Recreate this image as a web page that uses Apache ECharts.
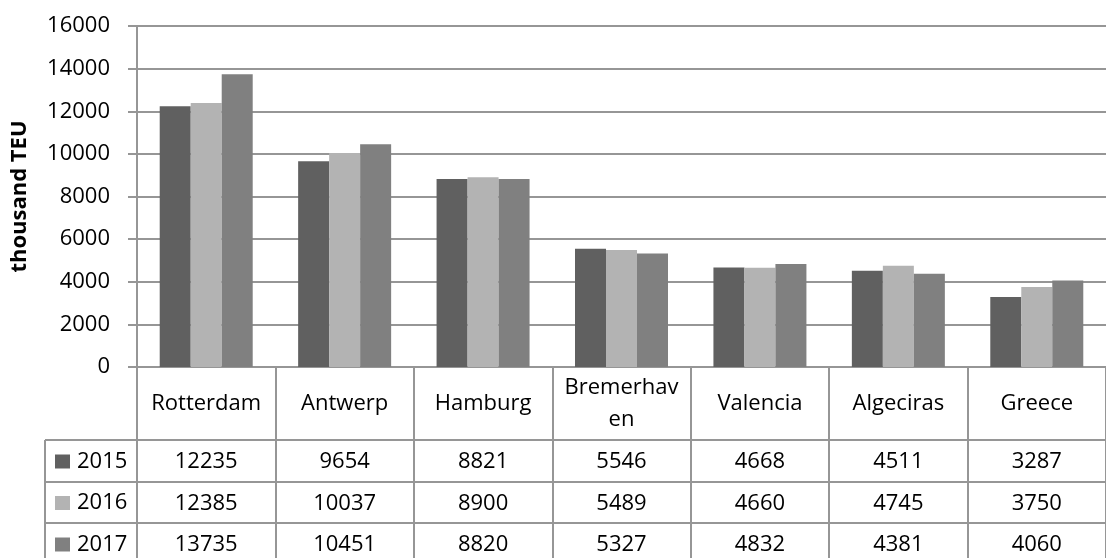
<!DOCTYPE html>
<html>
<head>
<meta charset="utf-8">
<script src="https://cdn.jsdelivr.net/npm/echarts@6/dist/echarts.min.js"></script>
<style>
  html, body { margin: 0; padding: 0; background: #fff; }
  #chart { width: 1106px; height: 558px; }
</style>
</head>
<body>
<div id="chart"></div>
<script>
// Container throughput of major ports, thousand TEU
const ports = ['Rotterdam', 'Antwerp', 'Hamburg', 'Bremerhaven', 'Valencia', 'Algeciras', 'Greece'];
const years = ['2015', '2016', '2017'];
const teu2015 = [12235, 9654, 8821, 5546, 4668, 4511, 3287];
const teu2016 = [12385, 10037, 8900, 5489, 4660, 4745, 3750];
const teu2017 = [13735, 10451, 8820, 5327, 4832, 4381, 4060];
const yMax = 16000;
const yStep = 2000;

const colors = ['#606060', '#b3b3b3', '#808080'];
const lineColor = '#969696';
const font = 'Open Sans';
const fs = 22;

// layout of the plot and the data table underneath it
const plotLeft = 137, plotTop = 26, plotBottomY = 367;
const tableLeft = 45;
const rowLines = [440, 482, 523];   // top edge of each year row
const rowHeight = 41.5;

const chart = echarts.init(document.getElementById('chart'));

const rows = [teu2015, teu2016, teu2017];

// one extra x axis per table row: its line is the row border, its labels are the values
const valueAxes = rows.map((vals, i) => ({
  type: 'category',
  gridIndex: 0,
  position: 'bottom',
  offset: rowLines[i] - plotBottomY,
  data: vals.map(String),
  axisLine: { show: true, lineStyle: { color: lineColor, width: 2 } },
  axisTick: { show: false },
  splitLine: { show: false },
  axisLabel: {
    interval: 0, margin: 22, verticalAlign: 'middle',
    fontFamily: font, fontSize: fs, color: '#000'
  }
}));

chart.setOption({
  animation: false,
  textStyle: { fontFamily: font },
  grid: { left: plotLeft, top: plotTop, right: -8, bottom: 558 - plotBottomY, containLabel: false },
  // year keys in the row-header column of the table
  legend: {
    data: years,
    orient: 'vertical',
    left: 55,
    top: rowLines[0] + 8,
    height: 300,
    padding: 0,
    itemWidth: 15, itemHeight: 14,
    itemGap: rowHeight - 27,
    icon: 'rect',
    selectedMode: false,
    textStyle: { fontFamily: font, fontSize: fs, color: '#000', lineHeight: 27, padding: [0, 0, 0, 2] }
  },
  xAxis: [{
    type: 'category',
    gridIndex: 0,
    position: 'bottom',
    data: ports,
    axisLine: { show: true, lineStyle: { color: lineColor, width: 2 } },
    axisTick: { show: true, interval: 0, length: 200, lineStyle: { color: lineColor, width: 2 } },
    splitLine: { show: false },
    axisLabel: {
      interval: 0, margin: 37, verticalAlign: 'middle', align: 'center',
      width: 120, overflow: 'breakAll', lineHeight: 32,
      fontFamily: font, fontSize: fs, color: '#000'
    }
  }].concat(valueAxes),
  yAxis: {
    type: 'value',
    min: 0, max: yMax, interval: yStep,
    name: 'thousand TEU',
    nameLocation: 'middle',
    nameRotate: 90,
    nameGap: 106,
    nameTextStyle: { fontFamily: font, fontSize: fs, fontWeight: 'bold', color: '#000' },
    axisLine: { show: true, lineStyle: { color: lineColor, width: 2 } },
    axisTick: { show: true, length: 9, lineStyle: { color: lineColor, width: 2 } },
    splitLine: { show: true, lineStyle: { color: lineColor, width: 2 } },
    axisLabel: { margin: 27, fontFamily: font, fontSize: fs, color: '#000', formatter: v => String(v) }
  },
  series: rows.map((vals, i) => ({
    name: years[i],
    type: 'bar',
    xAxisIndex: 0,
    data: vals,
    barWidth: 31,
    barGap: '0%',
    itemStyle: { color: colors[i] }
  })),
  // borders of the row-header column of the table
  graphic: rowLines.map(y => ({
    type: 'line',
    shape: { x1: tableLeft, y1: y, x2: plotLeft, y2: y },
    style: { stroke: lineColor, lineWidth: 2 }
  })).concat([{
    type: 'line',
    shape: { x1: tableLeft, y1: rowLines[0], x2: tableLeft, y2: 570 },
    style: { stroke: lineColor, lineWidth: 2 }
  }])
});
</script>
</body>
</html>
